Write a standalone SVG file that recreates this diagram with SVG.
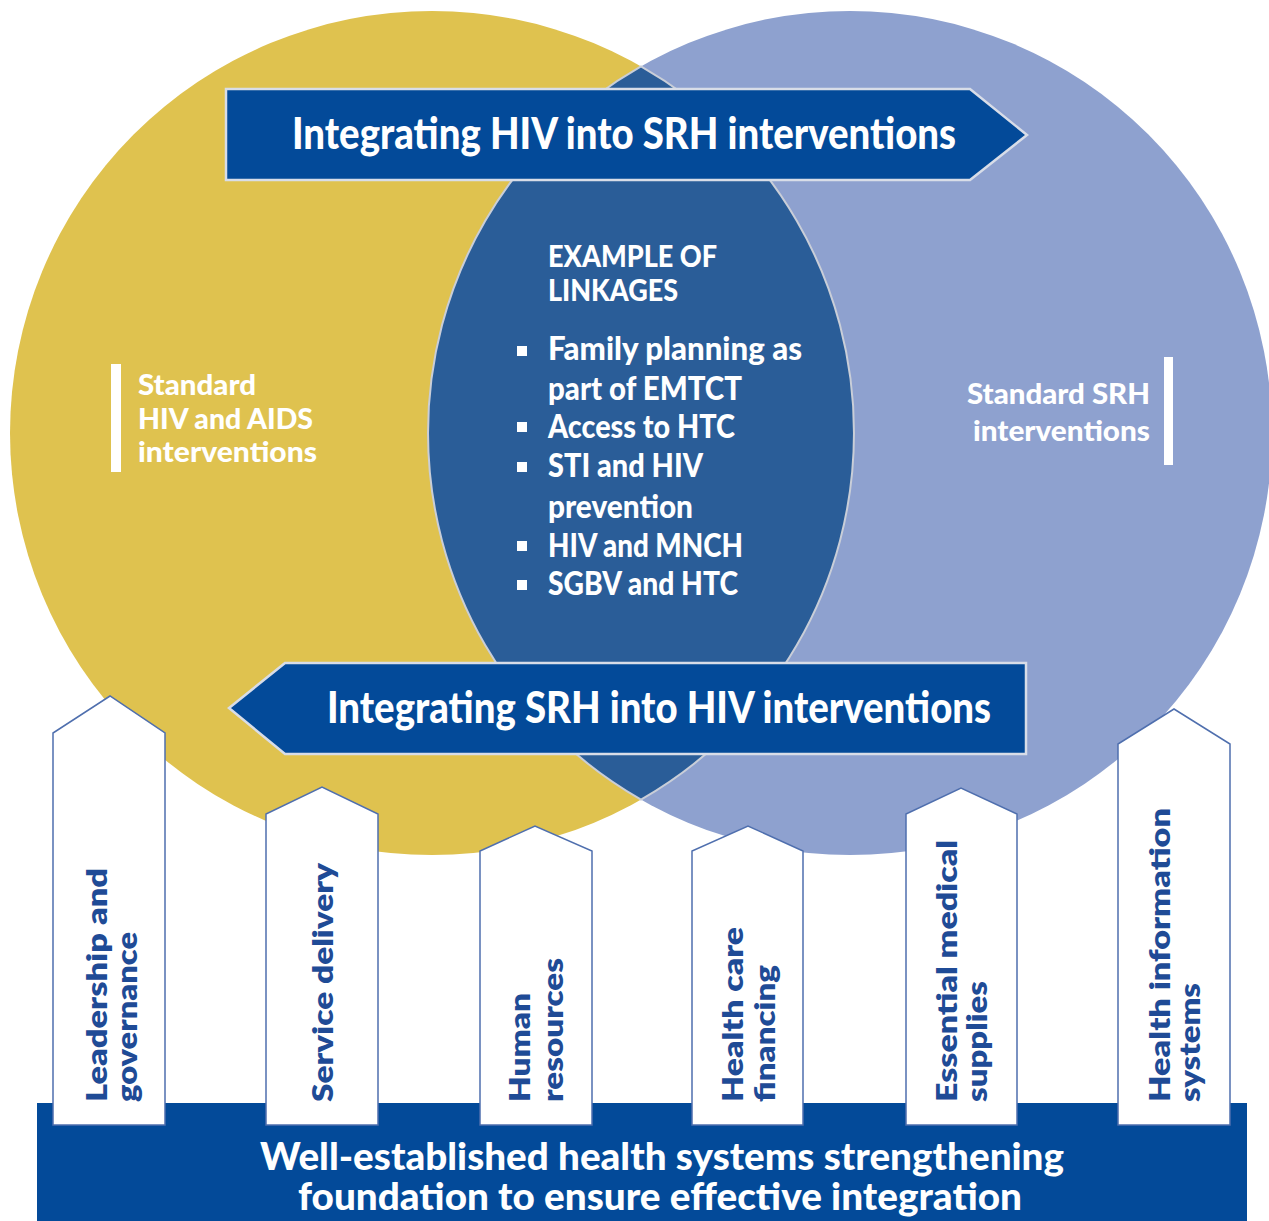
<svg xmlns="http://www.w3.org/2000/svg" width="1269" height="1221" viewBox="0 0 1269 1221">
  <style>
    .hdr { font-family: Lato, "Liberation Sans", sans-serif; font-weight: 900; fill: #ffffff; }
    .pil { font-family: Lato, "Liberation Sans", sans-serif; font-weight: 800; fill: #1f4b96; font-size: 29px; }
    .pillar { fill: #ffffff; stroke: #4f6fae; stroke-width: 1.5; }
    .band { fill: #034a99; stroke: #d8dde8; stroke-width: 2.5; }
    .bullet { fill: #ffffff; }
  </style>
  <rect width="1269" height="1221" fill="#ffffff"/>

  <!-- two overlapping circles and their lens -->
  <g id="circles">
    <circle id="hiv-circle" cx="432" cy="433" r="422" fill="#dfc24f"/>
    <circle id="srh-circle" cx="850" cy="433" r="422" fill="#8ea1cf"/>
    <path id="lens" d="M641 66.4 A422 422 0 0 1 641 799.6 A422 422 0 0 1 641 66.4 Z" fill="#2a5d98" stroke="#c9ced8" stroke-width="2"/>
  </g>

  <g id="hiv-label">
    <rect x="111" y="364" width="10" height="108" fill="#ffffff"/>
    <text class="hdr" font-size="29" x="138" y="395" textLength="118" lengthAdjust="spacingAndGlyphs">Standard</text>
    <text class="hdr" font-size="29" x="138" y="429" textLength="175" lengthAdjust="spacingAndGlyphs">HIV and AIDS</text>
    <text class="hdr" font-size="29" x="138" y="462" textLength="179" lengthAdjust="spacingAndGlyphs">interventions</text>
  </g>

  <g id="srh-label">
    <rect x="1164" y="357" width="9" height="108" fill="#ffffff"/>
    <text class="hdr" font-size="29" x="967" y="404" textLength="183" lengthAdjust="spacingAndGlyphs">Standard SRH</text>
    <text class="hdr" font-size="29" x="973" y="441" textLength="177" lengthAdjust="spacingAndGlyphs">interventions</text>
  </g>

  <g id="linkages">
    <text class="hdr" font-size="31" x="548" y="267" textLength="169" lengthAdjust="spacingAndGlyphs">EXAMPLE OF</text>
    <text class="hdr" font-size="31" x="548" y="301" textLength="130" lengthAdjust="spacingAndGlyphs">LINKAGES</text>
    <rect class="bullet" x="517" y="346" width="10" height="10"/>
    <text class="hdr" font-size="33" x="548" y="360" textLength="254" lengthAdjust="spacingAndGlyphs">Family planning as</text>
    <text class="hdr" font-size="33" x="548" y="400" textLength="194" lengthAdjust="spacingAndGlyphs">part of EMTCT</text>
    <rect class="bullet" x="517" y="422" width="10" height="10"/>
    <text class="hdr" font-size="33" x="548" y="438" textLength="187" lengthAdjust="spacingAndGlyphs">Access to HTC</text>
    <rect class="bullet" x="517" y="462" width="10" height="10"/>
    <text class="hdr" font-size="33" x="548" y="477" textLength="155" lengthAdjust="spacingAndGlyphs">STI and HIV</text>
    <text class="hdr" font-size="33" x="548" y="518" textLength="145" lengthAdjust="spacingAndGlyphs">prevention</text>
    <rect class="bullet" x="517" y="541" width="10" height="10"/>
    <text class="hdr" font-size="33" x="548" y="557" textLength="195" lengthAdjust="spacingAndGlyphs">HIV and MNCH</text>
    <rect class="bullet" x="517" y="580" width="10" height="10"/>
    <text class="hdr" font-size="33" x="548" y="595" textLength="190" lengthAdjust="spacingAndGlyphs">SGBV and HTC</text>
  </g>

  <!-- direction bands -->
  <g id="connectors">
    <g id="hiv-into-srh">
      <path class="band" d="M226 89 H970 L1027 135 L970 180 H226 Z"/>
      <text class="hdr" font-size="44" x="292" y="149" textLength="664" lengthAdjust="spacingAndGlyphs">Integrating HIV into SRH interventions</text>
    </g>
    <g id="srh-into-hiv">
      <path class="band" d="M1026 663 H285 L229 708 L285 754 H1026 Z"/>
      <text class="hdr" font-size="44" x="327" y="723" textLength="664" lengthAdjust="spacingAndGlyphs">Integrating SRH into HIV interventions</text>
    </g>
  </g>

  <!-- foundation slab -->
  <g id="foundation">
    <rect x="37" y="1103" width="1210" height="118" fill="#034a99"/>
  </g>

  <!-- pillars -->
  <g id="pillar-leadership">
    <path class="pillar" d="M53 1125 V733 L110 696 L165 733 V1125 Z"/>
    <text class="pil" transform="translate(107,1102) rotate(-90)" textLength="234" lengthAdjust="spacingAndGlyphs">Leadership and</text>
    <text class="pil" transform="translate(137,1102) rotate(-90)" textLength="170" lengthAdjust="spacingAndGlyphs">governance</text>
  </g>
  <g id="pillar-service">
    <path class="pillar" d="M266 1125 V814 L322 787 L378 814 V1125 Z"/>
    <text class="pil" transform="translate(333,1102) rotate(-90)" textLength="239" lengthAdjust="spacingAndGlyphs">Service delivery</text>
  </g>
  <g id="pillar-human">
    <path class="pillar" d="M480 1125 V851 L535 826 L592 851 V1125 Z"/>
    <text class="pil" transform="translate(530,1102) rotate(-90)" textLength="109" lengthAdjust="spacingAndGlyphs">Human</text>
    <text class="pil" transform="translate(563,1102) rotate(-90)" textLength="144" lengthAdjust="spacingAndGlyphs">resources</text>
  </g>
  <g id="pillar-financing">
    <path class="pillar" d="M692 1125 V851 L748 826 L803 851 V1125 Z"/>
    <text class="pil" transform="translate(743,1102) rotate(-90)" textLength="175" lengthAdjust="spacingAndGlyphs">Health care</text>
    <text class="pil" transform="translate(775,1102) rotate(-90)" textLength="137" lengthAdjust="spacingAndGlyphs">financing</text>
  </g>
  <g id="pillar-supplies">
    <path class="pillar" d="M906 1125 V814 L961 788 L1017 814 V1125 Z"/>
    <text class="pil" transform="translate(957,1102) rotate(-90)" textLength="262" lengthAdjust="spacingAndGlyphs">Essential medical</text>
    <text class="pil" transform="translate(987,1102) rotate(-90)" textLength="121" lengthAdjust="spacingAndGlyphs">supplies</text>
  </g>
  <g id="pillar-information">
    <path class="pillar" d="M1118 1125 V744 L1174 709 L1230 744 V1125 Z"/>
    <text class="pil" transform="translate(1170,1102) rotate(-90)" textLength="294" lengthAdjust="spacingAndGlyphs">Health information</text>
    <text class="pil" transform="translate(1200,1102) rotate(-90)" textLength="119" lengthAdjust="spacingAndGlyphs">systems</text>
  </g>

  <g id="foundation-label">
    <text class="hdr" font-size="38" x="260" y="1170" textLength="804" lengthAdjust="spacingAndGlyphs">Well-established health systems strengthening</text>
    <text class="hdr" font-size="38" x="298" y="1210" textLength="724" lengthAdjust="spacingAndGlyphs">foundation to ensure effective integration</text>
  </g>
</svg>
